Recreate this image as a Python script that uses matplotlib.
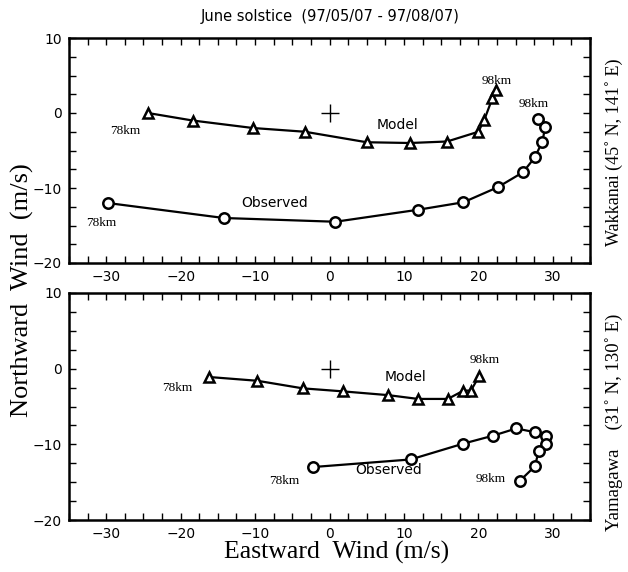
import matplotlib
matplotlib.use("Agg")
import matplotlib.pyplot as plt
from matplotlib.ticker import MultipleLocator

# Wakkanai (top)
wk_model_u = [-24.4, -18.4, -10.3, -3.3, 5.0, 10.8, 15.8, 20.0, 20.8, 21.9, 22.4]
wk_model_v = [0.0, -1.0, -2.0, -2.5, -3.9, -4.0, -3.8, -2.5, -0.9, 2.0, 3.1]
wk_obs_u = [-29.8, -14.2, 0.8, 11.9, 18.0, 22.6, 26.0, 27.6, 28.6, 29.0, 28.0]
wk_obs_v = [-12.0, -14.0, -14.5, -12.9, -11.9, -9.9, -7.9, -5.9, -3.8, -1.8, -0.8]

# Yamagawa (bottom)
ym_model_u = [-16.2, -9.7, -3.6, 1.8, 7.9, 11.9, 15.9, 18.0, 19.0, 20.1]
ym_model_v = [-1.1, -1.6, -2.6, -3.0, -3.5, -4.0, -4.0, -2.9, -2.9, -1.0]
ym_obs_u = [-2.2, 10.9, 18.0, 22.0, 25.1, 27.6, 29.1, 29.1, 28.1, 27.6, 25.6]
ym_obs_v = [-13.0, -12.0, -9.9, -8.85, -7.9, -8.4, -8.85, -9.9, -10.9, -12.9, -14.8]

xticks = [-30, -20, -10, 0, 10, 20, 30]
yticks = [-20, -10, 0, 10]

sans = "DejaVu Sans"
serif = "Liberation Serif"

fig = plt.figure(figsize=(6.28, 5.72), dpi=100)
ax1 = fig.add_axes([69/628, 1-263/572, (590-69)/628, (263-38)/572])
ax2 = fig.add_axes([69/628, 1-520/572, (590-69)/628, (520-293)/572])

def style(ax):
    ax.set_xlim(-35, 35)
    ax.set_ylim(-20, 10)
    ax.set_xticks(xticks)
    ax.set_yticks(yticks)
    ax.xaxis.set_minor_locator(MultipleLocator(2.5))
    ax.yaxis.set_minor_locator(MultipleLocator(2.5))
    ax.tick_params(which="both", direction="in", top=True, right=True,
                   length=5, width=1.0, labelsize=10, pad=5)
    for lab in ax.get_xticklabels() + ax.get_yticklabels():
        lab.set_family(sans)
    for s in ax.spines.values():
        s.set_linewidth(1.8)
    ax.plot([0], [0], marker="+", ms=13, mew=1.0, color="black", ls="none")

def series(ax, u, v, marker, ms):
    ax.plot(u, v, color="black", lw=1.6, marker=marker, ms=ms, mfc="white",
            mec="black", mew=1.8, zorder=3)

style(ax1)
series(ax1, wk_model_u, wk_model_v, "^", 7)
series(ax1, wk_obs_u, wk_obs_v, "o", 7.5)
ax1.text(-27.5, -2.4, "78km", family=serif, fontsize=9.5, ha="center", va="center")
ax1.text(-30.7, -14.7, "78km", family=serif, fontsize=9.5, ha="center", va="center")
ax1.text(22.5, 4.3, "98km", family=serif, fontsize=9.5, ha="center", va="center")
ax1.text(27.5, 1.2, "98km", family=serif, fontsize=9.5, ha="center", va="center")
ax1.text(9.1, -1.6, "Model", family=sans, fontsize=10, ha="center", va="center")
ax1.text(-7.4, -12.0, "Observed", family=sans, fontsize=10, ha="center", va="center")

style(ax2)
series(ax2, ym_model_u, ym_model_v, "^", 7)
series(ax2, ym_obs_u, ym_obs_v, "o", 7.5)
ax2.text(-20.4, -2.5, "78km", family=serif, fontsize=9.5, ha="center", va="center")
ax2.text(-6.1, -14.8, "78km", family=serif, fontsize=9.5, ha="center", va="center")
ax2.text(20.9, 1.15, "98km", family=serif, fontsize=9.5, ha="center", va="center")
ax2.text(21.7, -14.6, "98km", family=serif, fontsize=9.5, ha="center", va="center")
ax2.text(10.25, -1.05, "Model", family=sans, fontsize=10, ha="center", va="center")
ax2.text(8.0, -13.4, "Observed", family=sans, fontsize=10, ha="center", va="center")

fig.text(330/628, 1-16/572, "June solstice  (97/05/07 - 97/08/07)", family=sans,
         fontsize=10.5, ha="center", va="center")
fig.text(22/628, 1-290/572, "Northward  Wind  (m/s)", family=serif, fontsize=19,
         rotation=90, ha="center", va="center")
fig.text(337/628, 1-552/572, "Eastward  Wind (m/s)", family=serif, fontsize=18.5,
         ha="center", va="center")
fig.text(614/628, 1-152/572, "Wakkanai (45\u02da N, 141\u02da E)", family=serif,
         fontsize=13, rotation=90, ha="center", va="center")
fig.text(614/628, 1-422/572, "Yamagawa    (31\u02da N, 130\u02da E)", family=serif,
         fontsize=13.5, rotation=90, ha="center", va="center")

fig.savefig("out.png", dpi=100)
